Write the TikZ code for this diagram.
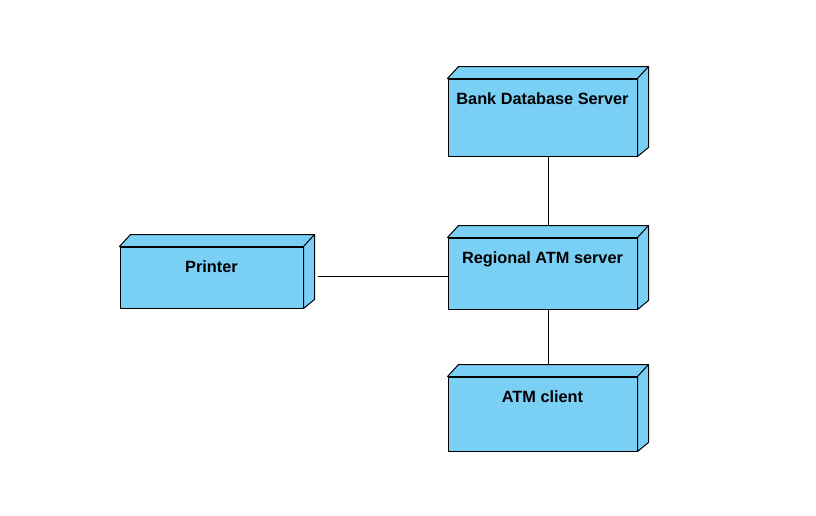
\documentclass[tikz,border=0pt]{standalone}
\usepackage{fontspec}
\setmainfont{Liberation Sans}
\usepackage{tikz}
\usetikzlibrary{positioning}

\definecolor{nodeblue}{RGB}{122,207,245}

\tikzset{
  devnode/.style={draw, fill=nodeblue, line width=1pt, rectangle,
    inner xsep=0pt, inner ysep=0pt, text height=25.5pt,
    font=\fontsize{16.3}{19}\selectfont\bfseries},
  devface/.style={draw, fill=nodeblue, line width=1pt, line join=round},
  link/.style={line width=1pt}
}

\begin{document}
\begin{tikzpicture}[x=1pt,y=-1pt]
\useasboundingbox (0,0) rectangle (816,515);
% the front faces of the nodes
\node[devnode, minimum width=189pt, text depth=51.5pt] (bank) at (542.5,117.5) {Bank Database Server};
\node[devnode, minimum width=189pt, text depth=45.5pt] (regional) at (542.5,273.5) {Regional ATM server};
\node[devnode, minimum width=189pt, text depth=48.5pt] (atm) at (542.5,414) {ATM client};
\node[devnode, minimum width=183pt, text depth=35.5pt] (printer) at (211.5,277.5) {Printer};
% the top and right faces
\foreach \n in {bank,regional,atm,printer}
{
  \draw[devface] (\n.north west) -- ([xshift=11pt,yshift=12pt]\n.north west)
    -- ([xshift=11pt,yshift=12pt]\n.north east)
    -- ([xshift=11pt,yshift=9pt]\n.south east) -- (\n.south east)
    -- (\n.north east) -- cycle;
  \draw[link] (\n.north east) -- ([xshift=11pt,yshift=12pt]\n.north east);
}
% the links
\coordinate (printer-out) at ([xshift=14.5pt,yshift=1pt]printer.east);
\draw[link] ([xshift=5.5pt]bank.south) -- ([xshift=5.5pt,yshift=12pt]regional.north);
\draw[link] ([xshift=5.5pt]regional.south) -- ([xshift=5.5pt,yshift=12pt]atm.north);
\draw[link] (regional.west |- printer-out) -- (printer-out);
%
\end{tikzpicture}
\end{document}
